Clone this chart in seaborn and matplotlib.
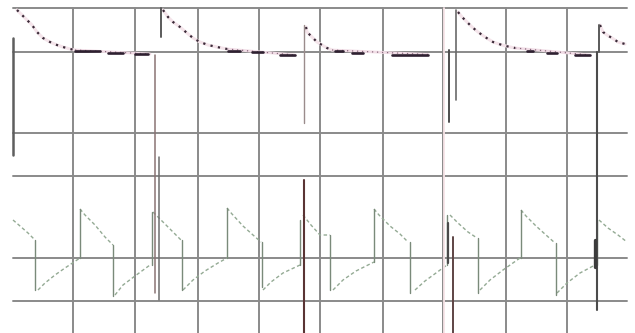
import numpy as np
import pandas as pd
import matplotlib
matplotlib.use("Agg")
import matplotlib.pyplot as plt
import seaborn as sns

# ---------------- data (time in ms, signal in arbitrary units) ----------------
grid_t = [60, 122, 185, 246, 307, 370, 430, 493, 554]
grid_v = [325, 281, 200, 157, 75, 32]

# upper trace: exponential recoveries after each reset
top1_t = [4, 12, 19, 24, 30, 37, 44, 50, 57, 62]
top1_v = [323, 315, 308, 301, 295, 291, 288, 286, 284, 283]
top2_t = [150, 155, 160, 167, 174, 180, 187, 195, 204, 214]
top2_v = [323, 316, 311, 306, 300, 295, 291, 288, 286, 284]
top3_t = [293, 294, 297, 300, 304, 309, 314, 319]
top3_v = [306, 301, 298, 295, 291, 288, 285, 283]
top4_t = [445, 449, 454, 459, 465, 472, 480, 489, 497, 502]
top4_v = [321, 316, 311, 306, 301, 296, 291, 288, 286, 285]
top5_t = [587, 590, 594, 599, 605, 612]
top5_v = [308, 301, 298, 295, 291, 289]

# upper trace: plateaus (start t, end t, start v, end v)
plat_t0 = [62, 214, 319, 502]
plat_t1 = [137, 282, 415, 577]
plat_v0 = [283, 284, 283, 285]
plat_v1 = [279, 278, 278.5, 278]

# heavy plateau marks (start t, end t, level)
mark_t0 = [62, 95, 122, 215, 239, 267, 322, 339, 379, 514, 534, 562]
mark_t1 = [87, 110, 135, 227, 250, 282, 330, 350, 415, 520, 544, 577]
mark_v = [282.5, 280, 279, 282, 281, 278, 282, 280, 278.5, 282, 280, 278]

# vertical spikes (time, top, bottom)
spike_t = [0, 142, 146, 148, 291, 291, 431, 436, 443, 435, 440, 584, 586, 582]
spike_top = [295, 278, 176, 325, 308, 153, 325, 283, 323, 110, 96, 281, 308, 93]
spike_bot = [178, 40, 33, 296, 210, 0, 0, 211, 233, 70, 0, 23, 281, 66]

# lower trace: sloped parts (one list per segment)
low_seg_t = [
    [0, 7, 15, 22],
    [25, 32, 42, 52, 67],
    [67, 72, 82, 92, 100],
    [102, 110, 122, 137],
    [140, 145, 155, 168],
    [170, 180, 192, 205, 214],
    [214, 219, 230, 240, 248],
    [250, 258, 270, 287],
    [290, 298, 307, 317],
    [320, 330, 343, 361],
    [361, 366, 377, 387, 395],
    [402, 412, 423, 434],
    [437, 445, 455, 464],
    [467, 477, 490, 507],
    [508, 513, 523, 533, 542],
    [544, 554, 567, 582],
    [586, 595, 605, 614],
]
low_seg_v = [
    [113, 107, 100, 93],
    [43, 50, 58, 65, 75],
    [124, 118, 108, 96, 88],
    [38, 48, 57, 68],
    [121, 116, 106, 93],
    [43, 53, 62, 70, 75],
    [125, 119, 107, 98, 91],
    [43, 51, 60, 68],
    [118, 108, 98, 98],
    [43, 53, 62, 71],
    [124, 118, 107, 99, 91],
    [43, 52, 60, 68],
    [118, 110, 101, 95],
    [43, 53, 63, 75],
    [123, 117, 107, 98, 90],
    [40, 50, 60, 68],
    [113, 105, 98, 91],
]
# lower trace: jumps (time, from, to)
jump_t = [22, 67, 100, 139, 169, 214, 249, 287, 317, 361, 397, 434, 465, 508, 543, 584]
jump_v0 = [93, 75, 88, 68, 93, 75, 91, 68, 98, 71, 91, 68, 95, 75, 90, 68]
jump_v1 = [43, 124, 37, 121, 43, 125, 46, 113, 43, 124, 40, 118, 40, 123, 38, 113]

# ---------------- styles ----------------
spike_colors = ['#5e5e5e', '#8a7474', '#6e6e6e', '#5a5a5a', '#9a8c8c', '#5a3434',
                '#f7e4e7', '#4e4e4e', '#6a6a6a', '#4a4a4a', '#5e4444', '#4c4c4c',
                '#5a5a5a', '#3c3c3c']
spike_widths = [1.8, 1.1, 1.1, 1.4, 1.0, 1.5, 1.3, 1.4, 1.2, 1.6, 1.4, 1.5, 1.4, 2.4]

sns.set_style("white")
fig = plt.figure(figsize=(6.35, 3.33), dpi=100)
ax = fig.add_axes([13 / 635, 0, 614 / 635, 325 / 333])
ax.set_xlim(0, 614)
ax.set_ylim(0, 325)
for s in ax.spines.values():
    s.set_visible(False)

for t in grid_t:
    ax.axvline(t, color='#8a8a8a', lw=1.4, zorder=0)
for v in grid_v:
    ax.axhline(v, color='#8a8a8a', lw=1.4, zorder=0, clip_on=False)

# upper trace plateaus (faint pink dotted)
rows = []
for i in range(len(plat_t0)):
    rows += [(i, plat_t0[i], plat_v0[i]), (i, plat_t1[i], plat_v1[i])]
df = pd.DataFrame(rows, columns=['seg', 't', 'v'])
sns.lineplot(data=df, x='t', y='v', units='seg', estimator=None, sort=False,
             color='#f1dde6', lw=2.0, ax=ax, zorder=2)
sns.lineplot(data=df, x='t', y='v', units='seg', estimator=None, sort=False,
             color='#8a6a7e', lw=0.9, linestyle=(0, (1, 3)), ax=ax, zorder=3)

# upper trace recoveries
rows = []
for i, (tt, vv) in enumerate([(top1_t, top1_v), (top2_t, top2_v), (top3_t, top3_v),
                              (top4_t, top4_v), (top5_t, top5_v)]):
    rows += [(i, a, b) for a, b in zip(tt, vv)]
df = pd.DataFrame(rows, columns=['seg', 't', 'v'])
sns.lineplot(data=df, x='t', y='v', units='seg', estimator=None, sort=False,
             color='#f4e4ea', lw=2.2, ax=ax, zorder=2)
sns.lineplot(data=df, x='t', y='v', units='seg', estimator=None, sort=False,
             color='#3a2a38', lw=1.6, linestyle=(0, (1, 2.4)), ax=ax, zorder=3)

# heavy plateau marks
rows = []
for i in range(len(mark_t0)):
    rows += [(i, mark_t0[i], mark_v[i]), (i, mark_t1[i], mark_v[i])]
df = pd.DataFrame(rows, columns=['seg', 't', 'v'])
sns.lineplot(data=df, x='t', y='v', units='seg', estimator=None, sort=False,
             color='#2e2030', lw=1.9, ax=ax, zorder=4)

# lower trace slopes
rows = []
for i, (tt, vv) in enumerate(zip(low_seg_t, low_seg_v)):
    rows += [(i, a, b) for a, b in zip(tt, vv)]
df = pd.DataFrame(rows, columns=['seg', 't', 'v'])
sns.lineplot(data=df, x='t', y='v', units='seg', estimator=None, sort=False,
             color='#94aa94', lw=1.0, linestyle=(0, (2.5, 1.8)), ax=ax, zorder=3)

# lower trace jumps
rows = []
for i in range(len(jump_t)):
    rows += [(i, jump_t[i], jump_v0[i]), (i, jump_t[i], jump_v1[i])]
df = pd.DataFrame(rows, columns=['seg', 't', 'v'])
sns.lineplot(data=df, x='t', y='v', units='seg', estimator=None, sort=False,
             color='#7a8a7a', lw=1.0, ax=ax, zorder=3)

# spikes
rows = []
for i in range(len(spike_t)):
    rows += [(i, spike_t[i], spike_top[i]), (i, spike_t[i], spike_bot[i])]
df = pd.DataFrame(rows, columns=['seg', 't', 'v'])
for i in range(len(spike_t)):
    sub = df[df.seg == i]
    sns.lineplot(data=sub, x='t', y='v', estimator=None, sort=False,
                 color=spike_colors[i], lw=spike_widths[i], ax=ax, zorder=5)
for ln in ax.lines:
    ln.set_clip_on(False)

ax.set_xticks([])
ax.set_yticks([])
ax.set_xlabel('')
ax.set_ylabel('')
fig.savefig('out.png', dpi=100, facecolor='white')
